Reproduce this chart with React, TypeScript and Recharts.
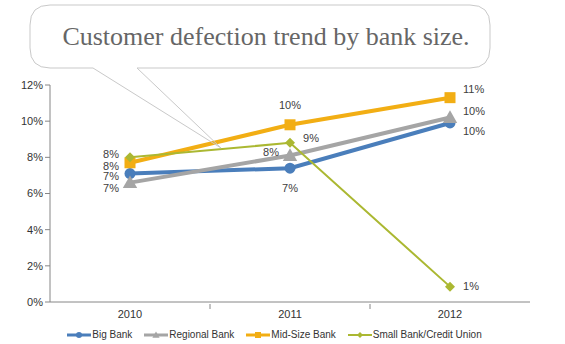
import React from "react";
import { LineChart, Line, XAxis, YAxis, Legend, LabelList } from "recharts";

const years = ["2010", "2011", "2012"];
const bigBank = [7.1, 7.4, 9.9];
const regionalBank = [6.6, 8.1, 10.2];
const midSizeBank = [7.7, 9.8, 11.3];
const smallBank = [8.0, 8.8, 0.85];
const yTicks = [0, 2, 4, 6, 8, 10, 12];

const title = "Customer defection trend by bank size.";

const series = [
  { key: "big", name: "Big Bank", values: bigBank, color: "#4a7ebb", width: 4, shape: "circle", labelSide: ["left", "below", "right"], labelDy: [3, 0, 8] },
  { key: "regional", name: "Regional Bank", values: regionalBank, color: "#a5a5a5", width: 4, shape: "triangle", labelSide: ["left", "left", "right"], labelDy: [5, -3, -6] },
  { key: "mid", name: "Mid-Size Bank", values: midSizeBank, color: "#f2ae14", width: 4, shape: "square", labelSide: ["left", "above", "right"], labelDy: [3, 0, -9] },
  { key: "small", name: "Small Bank/Credit Union", values: smallBank, color: "#abb832", width: 2, shape: "diamond", labelSide: ["left", "right", "right"], labelDy: [-3, -5, 0] },
];

const data = years.map((year, i) => {
  const row: any = { year };
  series.forEach((s) => (row[s.key] = s.values[i]));
  return row;
});

const W = 565;
const H = 344;
const margin = { top: 85, right: 35, bottom: 1, left: 0 };
const yAxisWidth = 50;
const band = (W - margin.left - margin.right - yAxisWidth) / years.length;

const font = "'Liberation Sans', Arial, sans-serif";

function marker(shape: string, cx: number, cy: number, color: string, size: number) {
  if (shape === "circle") return <circle cx={cx} cy={cy} r={size / 2} fill={color} />;
  if (shape === "square")
    return <rect x={cx - size / 2} y={cy - size / 2} width={size} height={size} fill={color} />;
  if (shape === "triangle")
    return (
      <path
        d={`M${cx},${cy - size * 0.6}L${cx + size * 0.6},${cy + size * 0.45}L${cx - size * 0.6},${cy + size * 0.45}Z`}
        fill={color}
      />
    );
  return (
    <path
      d={`M${cx},${cy - size / 2}L${cx + size / 2},${cy}L${cx},${cy + size / 2}L${cx - size / 2},${cy}Z`}
      fill={color}
    />
  );
}

const markerSize: Record<string, number> = { circle: 11, square: 11, triangle: 12, diamond: 10 };

const makeDot = (s: any) => (props: any) => {
  const { cx, cy, index } = props;
  if (cx == null || cy == null) return <g key={index} />;
  return <g key={`${s.key}-${index}`}>{marker(s.shape, cx, cy, s.color, markerSize[s.shape])}</g>;
};

const makeLabel = (s: any) => (props: any) => {
  const { x, y, value, index } = props;
  const side = s.labelSide[index];
  let lx = x;
  let ly = y + s.labelDy[index];
  let anchor: any = "middle";
  if (side === "left") {
    lx = x - 11;
    anchor = "end";
  } else if (side === "right") {
    lx = x + 13;
    anchor = "start";
  } else if (side === "above") {
    ly = y - 20;
  } else {
    ly = y + 20;
  }
  return (
    <text
      key={`${s.key}-l-${index}`}
      x={lx}
      y={ly}
      dy="0.35em"
      textAnchor={anchor}
      fontSize={11}
      fontFamily={font}
      fill="#404040"
    >
      {Math.round(value)}%
    </text>
  );
};

const XTick = (props: any) => {
  const { x, y, payload, index } = props;
  return (
    <g>
      {index < years.length - 1 && (
        <line x1={x + band / 2} y1={y - 6} x2={x + band / 2} y2={y - 1} stroke="#868686" />
      )}
      <text x={x} y={y + 8} textAnchor="middle" fontSize={11} fontFamily={font} fill="#333">
        {payload.value}
      </text>
    </g>
  );
};

const LegendContent = () => (
  <div
    style={{
      display: "flex",
      justifyContent: "center",
      gap: 11,
      fontFamily: font,
      fontSize: 10,
      color: "#333",
      paddingLeft: 18,
    }}
  >
    {series.map((s) => (
      <div key={s.key} style={{ display: "flex", alignItems: "center" }}>
        <svg width={26} height={10}>
          <line x1={1} y1={5} x2={25} y2={5} stroke={s.color} strokeWidth={s.width === 4 ? 3 : 2} />
          {marker(s.shape, 13, 5, s.color, 6)}
        </svg>
        <span>{s.name}</span>
      </div>
    ))}
  </div>
);

const Callout = () => (
  <svg width={W} height={H} style={{ position: "absolute", left: 0, top: 0, pointerEvents: "none" }}>
    <path
      d="M137,68 L470,68 Q490,68 490,48 L490,25 Q490,5 470,5 L50,5 Q30,5 30,25 L30,48 Q30,68 50,68 L93,68"
      fill="#fff"
      stroke="#c9c9c9"
      strokeWidth={1}
    />
    <path d="M93,68 L221,148 L137,68" fill="none" stroke="#c9c9c9" strokeWidth={1} />
    <text x={266} y={36} dy="0.35em" textAnchor="middle" fontSize={26} fontFamily="'Liberation Serif', Georgia, serif" fill="#666">
      {title}
    </text>
  </svg>
);

export default function App() {
  return (
    <div style={{ position: "absolute", left: 0, top: 0, width: W, height: H, background: "#fff" }}>
      <LineChart width={W} height={H} data={data} margin={margin}>
        <XAxis
          dataKey="year"
          axisLine={{ stroke: "#868686" }}
          tickLine={false}
          tick={<XTick />}
          height={27}
          interval={0}
          padding={{ left: band / 2, right: band / 2 }}
        />
        <YAxis
          domain={[0, 12]}
          ticks={yTicks}
          width={yAxisWidth}
          axisLine={{ stroke: "#868686" }}
          tickLine={{ stroke: "#868686" }}
          tickSize={5}
          tick={{ fontSize: 11, fontFamily: font, fill: "#333" }}
          tickFormatter={(v: number) => `${v}%`}
        />
        {series.map((s) => (
          <Line
            key={s.key}
            dataKey={s.key}
            name={s.name}
            stroke={s.color}
            strokeWidth={s.width}
            dot={makeDot(s)}
            activeDot={false}
            isAnimationActive={false}
          >
            <LabelList dataKey={s.key} content={makeLabel(s)} />
          </Line>
        ))}
        <Legend verticalAlign="bottom" height={14} content={<LegendContent />} />
      </LineChart>
      <Callout />
    </div>
  );
}
